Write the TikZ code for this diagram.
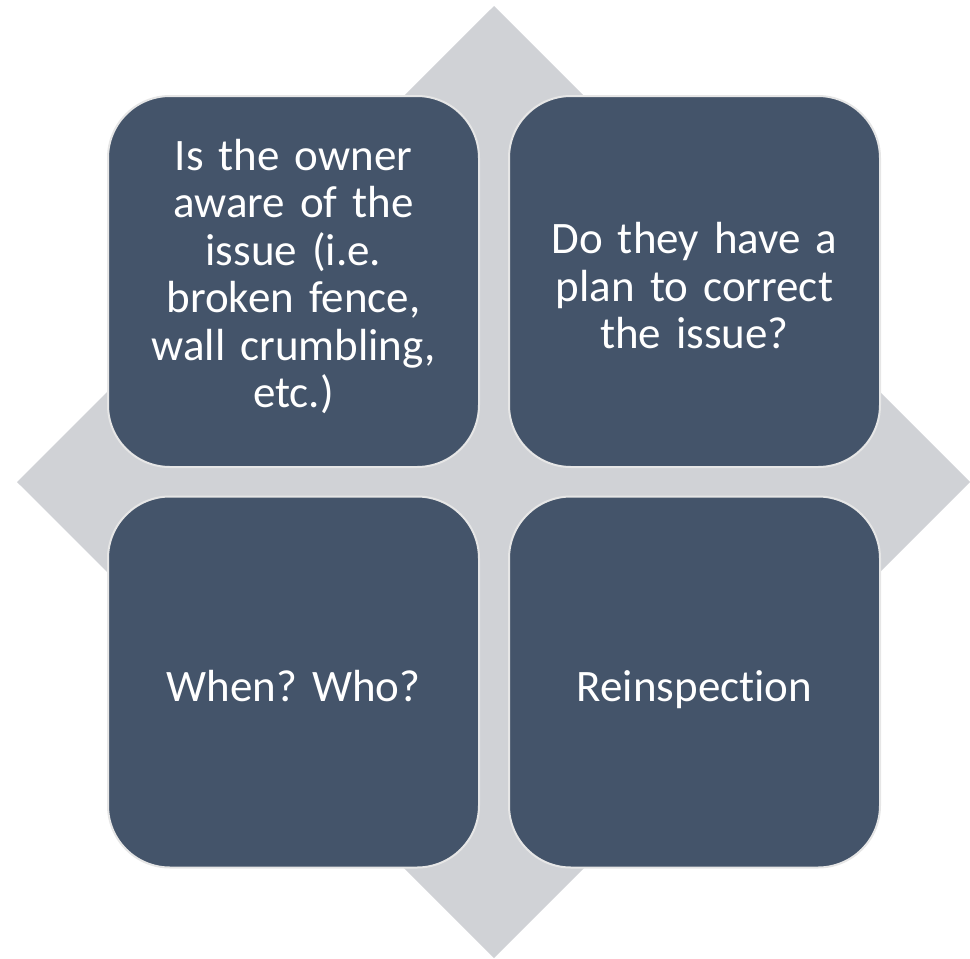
\documentclass[tikz,border=0pt]{standalone}
\usepackage{fontspec}
\setmainfont[Ligatures=CommonOff]{Carlito}
\definecolor{diamondgray}{HTML}{D0D2D6}
\definecolor{boxblue}{HTML}{44546A}
\definecolor{edgegray}{HTML}{E6E6E6}
\begin{document}
\frenchspacing
\begin{tikzpicture}[x=1pt,y=-1pt,
  quad/.style={draw=edgegray, line width=2pt, fill=boxblue, rounded corners=62pt,
    minimum width=371pt, minimum height=371pt, inner sep=0pt, anchor=center},
  quadtext/.style={text=white, align=center, text width=350pt, inner sep=0pt,
    font=\fontsize{45}{47.5}\selectfont, anchor=base}]
\useasboundingbox (0,0) rectangle (970,959);
\fill[diamondgray] (494,6) coordinate (dt) -- (970,482) coordinate (dr) -- (494,958) coordinate (db) -- (17,482) coordinate (dl) -- cycle;
\node[quad] (tl) at (293.5,281.5) {};
\node[quad] (tr) at (694.5,281.5) {};
\node[quad] (bl) at (293.5,682) {};
\node[quad] (br) at (694.5,682) {};
\node[quadtext] (tltext) at ([yshift=111.5pt]tl.center) {Is the owner\\aware of the\\issue (i.e.\\broken fence,\\wall crumbling,\\etc.)};
\node[quadtext] (trtext) at ([yshift=28pt]tr.center) {Do they have a\\plan to correct\\the issue?};
\node[quadtext] (bltext) at ([yshift=-19.5pt]bl.center) {When? Who?};
\node[quadtext] (brtext) at ([yshift=-19.5pt]br.center) {Reinspection};
\end{tikzpicture}
\end{document}
